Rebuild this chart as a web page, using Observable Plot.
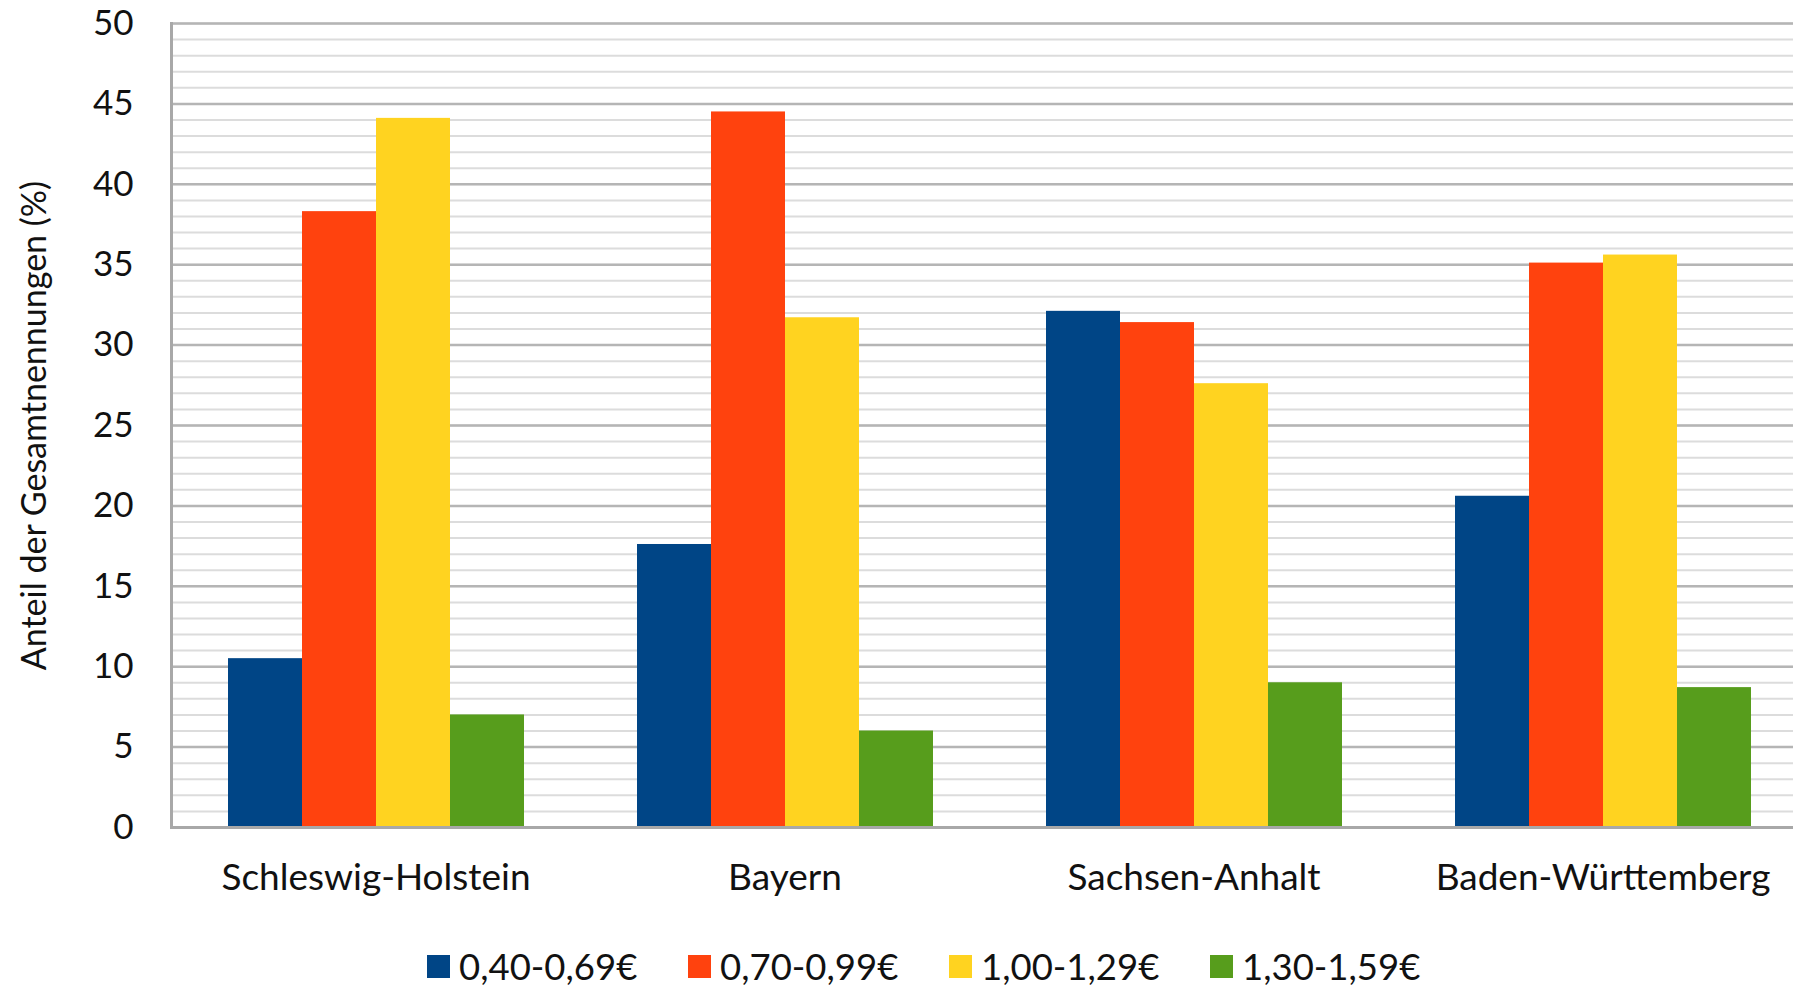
<!DOCTYPE html>
<html>
<head>
<meta charset="utf-8">
<script src="https://cdn.jsdelivr.net/npm/d3@7"></script>
<script src="https://cdn.jsdelivr.net/npm/@observablehq/plot@0.6"></script>
<style>
  body { margin: 0; background: #fff; font-family: Lato, "Open Sans", sans-serif; }
  #legend { display: flex; margin-left: 427px; margin-top: 4px; color: #111; font-size: 36.5px; }
  .item { display: flex; align-items: center; width: 261px; white-space: nowrap; }
  .sw { width: 23px; height: 23px; margin-right: 9px; flex: none; }
</style>
</head>
<body>
<div id="chart"></div>
<div id="legend"></div>
<script>
const states = ["Schleswig-Holstein", "Bayern", "Sachsen-Anhalt", "Baden-Württemberg"];
const series = ["0,40-0,69€", "0,70-0,99€", "1,00-1,29€", "1,30-1,59€"];
const colors = ["#004586", "#ff420e", "#ffd320", "#579d1c"];
const v040 = [10.5, 17.6, 32.1, 20.6];
const v070 = [38.3, 44.5, 31.4, 35.1];
const v100 = [44.1, 31.7, 27.6, 35.6];
const v130 = [7.0, 6.0, 9.0, 8.7];
const yTicks = [0, 5, 10, 15, 20, 25, 30, 35, 40, 45, 50];
const yMinor = d3.range(0, 51, 1);
const yTitle = "Anteil der Gesamtnennungen (%)";

const seriesValues = [v040, v070, v100, v130];
const data = [];
states.forEach((s, i) => series.forEach((k, j) => data.push({state: s, series: k, value: seriesValues[j][i]})));

const chart = Plot.plot({
  width: 1793,
  height: 940,
  marginTop: 23,
  marginBottom: 113,
  marginLeft: 169,
  marginRight: -15,
  style: {fontFamily: "Lato, 'Open Sans', sans-serif", color: "#111", background: "#fff", overflow: "hidden"},
  fx: {domain: states, padding: 0, label: null},
  x: {domain: series, paddingInner: 0, paddingOuter: 0.745, axis: null},
  y: {domain: [0, 50], label: null},
  color: {domain: series, range: colors},
  marks: [
    Plot.gridY(yMinor, {stroke: "#dcdcdc", strokeOpacity: 1, strokeWidth: 2}),
    Plot.gridY(yTicks, {stroke: "#b5b5b5", strokeOpacity: 1, strokeWidth: 2.5}),
    Plot.barY(data, {fx: "state", x: "series", y: "value", fill: "series"}),
    Plot.ruleY([0], {stroke: "#a8a8a8", strokeWidth: 3}),
    Plot.frame({anchor: "left", fx: () => states[0], stroke: "#a8a8a8", strokeWidth: 3}),
    Plot.axisY({ticks: yTicks, tickSize: 0, tickPadding: 38, fontSize: 35, label: null}),
    Plot.axisY({ticks: [], tickSize: 0, fontSize: 34, label: yTitle, labelAnchor: "center", labelOffset: 150, labelArrow: "none"}),
    Plot.axisFx({anchor: "bottom", tickSize: 0, tickPadding: 36, fontSize: 37, label: null})
  ]
});
document.getElementById("chart").appendChild(chart);

const legend = document.getElementById("legend");
series.forEach((k, j) => {
  const it = document.createElement("div");
  it.className = "item";
  const sw = document.createElement("span");
  sw.className = "sw";
  sw.style.background = colors[j];
  const t = document.createElement("span");
  t.textContent = k;
  it.appendChild(sw);
  it.appendChild(t);
  legend.appendChild(it);
});
</script>
</body>
</html>
